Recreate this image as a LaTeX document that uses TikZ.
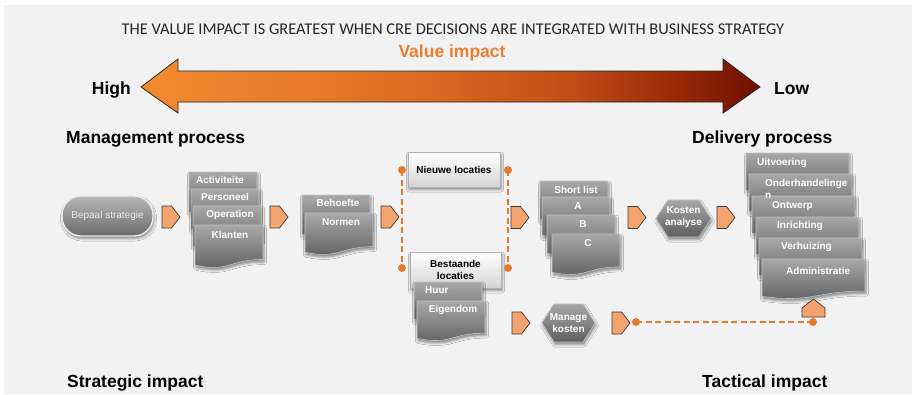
\documentclass[tikz,border=0pt]{standalone}
\usepackage{fontspec}
\setmainfont{Liberation Sans}
\newfontfamily\titlefont{Carlito}
\usetikzlibrary{shadows.blur}

\definecolor{bg}{HTML}{F2F2F2}
\definecolor{accent}{HTML}{EE7D31}
\definecolor{pentfill}{HTML}{F2A36E}
\definecolor{pentline}{HTML}{3E3A38}
\definecolor{boxtop}{HTML}{A8A8A8}
\definecolor{boxbot}{HTML}{5E5E5E}
\definecolor{boxline}{HTML}{C4C4C4}
\definecolor{dashcol}{HTML}{E8782E}
\definecolor{vc1}{HTML}{F28A30}
\definecolor{vc2}{HTML}{E57828}
\definecolor{vc3}{HTML}{D66620}
\definecolor{vc4}{HTML}{C04C17}
\definecolor{vc5}{HTML}{9A2A08}
\definecolor{vc6}{HTML}{6E1000}

% left-to-right colour ramp of the value bar
\pgfdeclarehorizontalshading{valuebar}{100bp}{%
  color(0bp)=(vc1); color(25bp)=(vc1); color(40bp)=(vc2); color(50bp)=(vc3);
  color(60bp)=(vc4); color(68bp)=(vc5); color(75bp)=(vc6); color(100bp)=(vc6)}

\tikzset{
  heading/.style={font=\fontsize{17.5}{20}\selectfont\bfseries, text=black, inner sep=0pt},
  grayshape/.style={top color=boxtop, bottom color=boxbot, draw=boxline, line width=0.6pt,
    blur shadow={shadow xshift=1pt, shadow yshift=-2.5pt, shadow blur radius=2.5pt, shadow opacity=45}},
  lightshape/.style={top color=white, bottom color=black!17, draw=black!30, line width=0.6pt,
    blur shadow={shadow xshift=1pt, shadow yshift=-2.5pt, shadow blur radius=2.5pt, shadow opacity=45}},
  doclabel/.style={font=\fontsize{10}{11.5}\selectfont\bfseries, text=white, inner sep=0pt},
  pentshape/.style={fill=pentfill, draw=pentline, line width=0.7pt, line join=miter},
  dashline/.style={draw=dashcol, line width=1.8pt, dash pattern=on 6pt off 3.5pt},
  dotend/.style={fill=dashcol},
}

% document shape: top-left corner x, y; width; height
\newcommand\docshape[4]{%
  \path[grayshape] (#1,#2) -- (#1+#3,#2) -- (#1+#3,#2+0.802*#4)
    .. controls (#1+0.5*#3,#2+0.802*#4) and (#1+0.5*#3,#2+1.1075*#4) .. (#1,#2+0.934*#4) -- cycle;}
% arrow plate pointing right: left x, centre y
\newcommand\pentright[2]{%
  \path[pentshape] (#1,#2-11) -- (#1+9.5,#2-11) -- (#1+18,#2) -- (#1+9.5,#2+11) -- (#1,#2+11) -- cycle;}
% hexagon: left x, right x, top y, bottom y
\newcommand\hexshape[4]{%
  \path[grayshape] (#1,#3/2+#4/2) -- (#1+12,#3) -- (#2-12,#3) -- (#2,#3/2+#4/2) -- (#2-12,#4) -- (#1+12,#4) -- cycle;}

\begin{document}
\begin{tikzpicture}[x=1pt, y=-1pt]
\useasboundingbox (0,0) rectangle (912,394);
\fill[bg] (4,5) rectangle (912,394);

% headline and value scale
\node[font=\titlefont\fontsize{16.4}{18}\selectfont, text=black!85, anchor=base, inner sep=0pt] (title) at (453,34)
  {THE VALUE IMPACT IS GREATEST WHEN CRE DECISIONS ARE INTEGRATED WITH BUSINESS STRATEGY};
\node[heading, text=accent, anchor=base] (vimpact) at (452,57) {Value impact};
\shadedraw[shading=valuebar, draw=black!85, line width=0.8pt]
  (141,87) -- (178,59) -- (178,71) -- (723,71) -- (723,59) -- (760,87)
  -- (723,113) -- (723,102) -- (178,102) -- (178,113) -- cycle;
\node[heading, anchor=base east] (high) at (131,94) {High};
\node[heading, anchor=base west] (low) at (774,94) {Low};

\node[heading, anchor=base west] (mgmt) at (66,143) {Management process};
\node[heading, anchor=base west] (deliv) at (692,143) {Delivery process};
\node[heading, anchor=base west] (strat) at (67,387) {Strategic impact};
\node[heading, anchor=base west] (tact) at (702,387) {Tactical impact};

% start terminal
\node[top color=black!28, bottom color=black!58, draw=white!92!black, line width=1.4pt,
  rounded corners=19pt, minimum width=91pt, minimum height=40pt, inner sep=0pt,
  text=white!92!black, font=\fontsize{10}{11}\selectfont,
  blur shadow={shadow xshift=1pt, shadow yshift=-2.5pt, shadow blur radius=2.5pt, shadow opacity=45}]
  (bepaal) at (107.5,216) {Bepaal strategie};
\pentright{162}{217}

% organisation inputs
\docshape{189}{172}{68}{43}
\docshape{191}{189}{68}{43}
\docshape{193}{206}{68}{43}
\docshape{195}{225}{68}{43}
\node[doclabel] (act) at (220,180) {Activiteite};
\node[doclabel] (pers) at (225,197) {Personeel};
\node[doclabel] (oper) at (230,215) {Operation};
\node[doclabel] (klant) at (230,235) {Klanten};
\pentright{270}{217}

% requirements
\docshape{302}{195}{68}{42}
\docshape{305}{213}{68}{42}
\node[doclabel] (behoefte) at (338,203) {Behoefte};
\node[doclabel] (normen) at (341,222) {Normen};
\pentright{381}{217}

% location options
\node[lightshape, minimum width=92pt, minimum height=35pt, inner sep=0pt,
  font=\fontsize{10}{11}\selectfont\bfseries] (nieuw) at (454,169.5) {Nieuwe locaties};
\node[lightshape, minimum width=91pt, minimum height=36pt, inner sep=0pt, align=center,
  font=\fontsize{10}{11.5}\selectfont\bfseries] (bestaand) at (455.5,270) {Bestaande\\locaties};
\docshape{414}{282}{68}{40}
\docshape{417}{301}{68}{40}
\node[doclabel, anchor=west] (huur) at (425,290) {Huur};
\node[doclabel] (eigen) at (453,310) {Eigendom};

\coordinate (nl) at (402,170);
\coordinate (bl) at (402,268);
\coordinate (nr) at (508,170);
\coordinate (br) at (508,268);
\draw[dashline] (nl) -- (bl);
\draw[dashline] (nr) -- (br);
\foreach \c in {nl,bl,nr,br} \fill[dotend] (\c) circle (4);
\pentright{511}{217.5}

% short list
\docshape{540}{181}{68}{41}
\docshape{542}{197}{68}{41}
\docshape{547}{215}{68}{41}
\docshape{552}{234}{68}{41}
\node[doclabel] (short) at (576,190) {Short list};
\node[doclabel] (optA) at (578,206) {A};
\node[doclabel] (optB) at (583,224) {B};
\node[doclabel] (optC) at (588,243) {C};
\pentright{628}{217.5}

% cost analysis
\hexshape{656}{711}{200}{237}
\node[doclabel, align=center, font=\fontsize{10}{12.5}\selectfont\bfseries] (kosten) at (683.5,217) {Kosten\\analyse};
\pentright{717}{217.5}

% delivery steps
\docshape{746}{153}{103}{40}
\docshape{749}{174}{103}{40}
\docshape{752}{196}{103}{40}
\docshape{756}{217}{103}{40}
\docshape{759}{238}{103}{40}
\docshape{762}{259}{103}{40}
\node[doclabel, anchor=west] (uitv) at (757,163) {Uitvoering};
\node[doclabel, anchor=west] (onder) at (765,184) {Onderhandelinge};
\node[doclabel, anchor=west] (onderb) at (765,196) {n};
\node[doclabel, anchor=west] (ontw) at (772,206) {Ontwerp};
\node[doclabel, anchor=west] (inr) at (777,226) {Inrichting};
\node[doclabel, anchor=west] (verh) at (781,247) {Verhuizing};
\node[doclabel, anchor=west] (admin) at (786,271) {Administratie};

% cost management feedback
\pentright{512}{323}
\hexshape{542}{595}{304}{342}
\node[doclabel, align=center, font=\fontsize{10}{12.5}\selectfont\bfseries] (manage) at (568.5,323) {Manage\\kosten};
\pentright{612}{323}
\path[pentshape] (802,317) -- (802,308) -- (813.5,299) -- (825,308) -- (825,317) -- cycle;
\coordinate (mk) at (636,322);
\coordinate (ad) at (813,322);
\draw[dashline] (mk) -- (ad);
\fill[dotend] (mk) circle (4);
\fill[dotend] (ad) circle (4);
\end{tikzpicture}
\end{document}
